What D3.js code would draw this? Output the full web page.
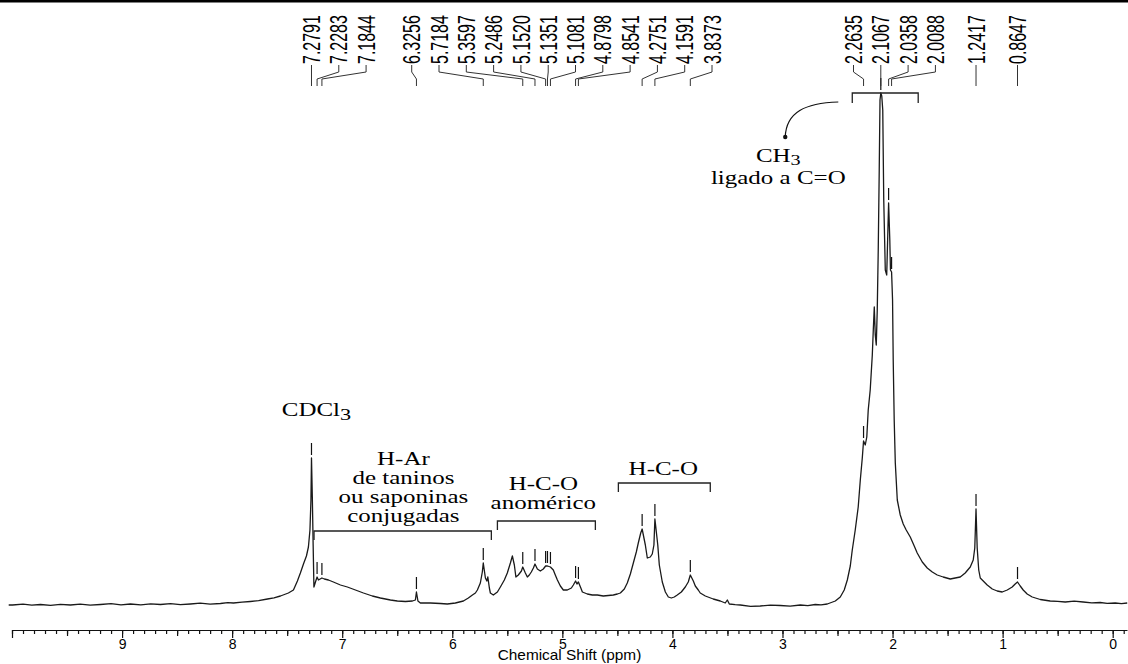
<!DOCTYPE html>
<html>
<head>
<meta charset="utf-8">
<script src="https://cdn.jsdelivr.net/npm/d3@7"></script>
<style>
body { margin: 0; background: #fff; }
svg { display: block; }
.serif { font-family: "Liberation Serif", "Times New Roman", serif; font-size: 18.5px; fill: #000; }
.sans { font-family: "Liberation Sans", Arial, sans-serif; fill: #000; }
</style>
</head>
<body>
<svg id="chart" width="1128" height="664"></svg>
<script>
// 1H NMR trace: [chemical shift (ppm), intensity (a.u.)]
const spectrum = [
  [10.03, -1], [9.995, -1], [9.90, -0.2], [9.82, -1.2], [9.741, -0.5], [9.65, -1.3], [9.56, -0.3],
  [9.469, -1], [9.38, -0.2], [9.29, -1.2], [9.196, -0.5], [9.10, 0.3], [9.01, -0.8], [8.924, 0],
  [8.83, -0.9], [8.74, 0.2], [8.651, -0.5], [8.56, 0.4], [8.47, -0.6], [8.379, 0], [8.29, 0.8],
  [8.20, -0.2], [8.106, 0.5], [8.04, 1.4], [7.988, 1], [7.91, 1.8], [7.834, 2.5], [7.76, 3.3],
  [7.679, 5], [7.62, 6.2], [7.561, 8], [7.489, 11],
  [7.443, 14], [7.407, 23], [7.380, 31], [7.352, 40], [7.325, 48], [7.307, 57], [7.293, 74],
  [7.284, 104], [7.2791, 146], [7.271, 104], [7.264, 59], [7.257, 17], [7.243, 22], [7.2283, 27],
  [7.216, 24], [7.1844, 26], [7.162, 25], [7.125, 24], [7.080, 22], [7.016, 19], [6.953, 17],
  [6.880, 14], [6.807, 11], [6.726, 8], [6.653, 6], [6.562, 4], [6.499, 3], [6.426, 2.5],
  [6.362, 3], [6.335, 4], [6.3256, 12], [6.312, 3], [6.290, 1], [6.199, 1], [6.108, 0.5],
  [6.045, 0], [5.972, 1], [5.899, 3], [5.854, 6], [5.817, 9], [5.790, 11], [5.772, 14],
  [5.745, 21], [5.727, 32], [5.7184, 41], [5.699, 26], [5.686, 23], [5.677, 27], [5.663, 16],
  [5.654, 11], [5.627, 9], [5.590, 12], [5.563, 17], [5.527, 24], [5.500, 31], [5.472, 41],
  [5.454, 48], [5.436, 39], [5.422, 27], [5.400, 29], [5.372, 33], [5.3597, 37], [5.336, 31],
  [5.318, 27], [5.300, 29], [5.282, 32], [5.263, 36], [5.2486, 40], [5.227, 35], [5.200, 33],
  [5.173, 35], [5.1520, 38], [5.1351, 38], [5.1081, 37], [5.082, 34], [5.064, 29], [5.045, 24],
  [5.018, 18], [4.991, 14], [4.955, 14], [4.918, 16], [4.900, 19], [4.8798, 23], [4.867, 20],
  [4.8541, 22], [4.832, 16], [4.818, 12], [4.773, 10], [4.728, 9], [4.682, 9], [4.628, 8],
  [4.582, 8.5], [4.537, 9], [4.500, 10], [4.473, 11], [4.437, 15], [4.410, 21], [4.382, 30],
  [4.355, 41], [4.328, 52], [4.310, 61], [4.288, 71], [4.2751, 75], [4.246, 59], [4.228, 46],
  [4.201, 47], [4.183, 50], [4.168, 59], [4.1591, 85], [4.133, 59], [4.119, 39], [4.092, 22],
  [4.064, 12], [4.037, 7], [4.010, 6], [3.983, 7], [3.956, 9], [3.919, 12], [3.883, 17],
  [3.856, 22], [3.8373, 29], [3.810, 23], [3.792, 18], [3.765, 14], [3.747, 11], [3.701, 8],
  [3.629, 5], [3.565, 3], [3.520, 1], [3.501, 4], [3.483, 0], [3.43, -0.6], [3.383, -1],
  [3.29, -2.3], [3.202, -2], [3.11, -1.2], [3.020, -1.5], [2.93, -2.2], [2.838, -1],
  [2.77, -1.6], [2.702, -0.5], [2.65, -0.9], [2.593, 0], [2.520, 3], [2.475, 7], [2.439, 14],
  [2.411, 24], [2.384, 38], [2.366, 54], [2.339, 74], [2.312, 97], [2.293, 124], [2.275, 146],
  [2.2635, 163], [2.248, 159], [2.234, 167], [2.221, 194], [2.203, 214], [2.184, 249],
  [2.175, 274], [2.166, 297], [2.157, 269], [2.148, 259], [2.139, 294], [2.130, 354],
  [2.121, 434], [2.114, 504], [2.1067, 511], [2.098, 508], [2.089, 494], [2.080, 404],
  [2.066, 334], [2.053, 329], [2.0358, 401], [2.025, 364], [2.019, 334], [2.0088, 332],
  [2.000, 304], [1.994, 244], [1.985, 184], [1.975, 141], [1.957, 104], [1.930, 89],
  [1.903, 80], [1.876, 74], [1.839, 67], [1.803, 58], [1.776, 51], [1.730, 42], [1.685, 36],
  [1.639, 32], [1.594, 29], [1.540, 27], [1.476, 25], [1.431, 26], [1.385, 27], [1.340, 31],
  [1.294, 37], [1.267, 44], [1.253, 56], [1.2417, 95], [1.231, 56], [1.217, 34], [1.203, 26],
  [1.176, 23], [1.140, 19], [1.094, 15], [1.049, 13], [1.004, 12], [0.958, 14], [0.913, 17],
  [0.886, 20], [0.8647, 22], [0.840, 18], [0.813, 14], [0.777, 10], [0.731, 7], [0.658, 4.5],
  [0.568, 3], [0.50, 2.6], [0.431, 2], [0.35, 2.8], [0.268, 2], [0.19, 1.2], [0.114, 1.5],
  [0.05, 0.6], [-0.023, 1], [-0.08, 0.4], [-0.132, 1]
];

// picked peaks (ppm), labelled along the top
const peakShifts = [7.2791, 7.2283, 7.1844, 6.3256, 5.7184, 5.3597, 5.2486, 5.1520, 5.1351,
  5.1081, 4.8798, 4.8541, 4.2751, 4.1591, 3.8373, 2.2635, 2.1067, 2.0358, 2.0088, 1.2417, 0.8647];

const axisLabels = [9, 8, 7, 6, 5, 4, 3, 2, 1, 0];

// region annotations: text centre (ppm), first baseline level, bracket range (ppm) and level
const regionText = [
  ["H-Ar", "de taninos", "ou saponinas", "conjugadas"],
  ["H-C-O", "anomérico"],
  ["H-C-O"]
];
const regionCenter = [6.444, 5.173, 4.083];
const regionLevel = [139, 114, 129];
const regionBracket = [[7.256, 5.645], [5.590, 4.700], [4.491, 3.656]];
const bracketLevel = [73, 83, 121];

const W = 1128, H = 664;
const svg = d3.select("#chart");

const x = d3.scaleLinear().domain([10, -0.13]).range([12, 1127]);
const y = d3.scaleLinear().domain([0, 520]).range([604, 84]);

// frame line on top
svg.append("line")
  .attr("x1", 0).attr("x2", W).attr("y1", 1.2).attr("y2", 1.2)
  .attr("stroke", "#000").attr("stroke-width", 2.4);

// spectrum
svg.append("path")
  .datum(spectrum)
  .attr("fill", "none")
  .attr("stroke", "#1a1a1a")
  .attr("stroke-width", 1.3)
  .attr("stroke-linejoin", "round")
  .attr("d", d3.line().x(d => x(d[0])).y(d => y(d[1])));

// peak heights looked up from the trace
const peaks = peakShifts.map(p => {
  const pt = d3.least(spectrum, d => Math.abs(d[0] - p));
  return { ppm: p, h: pt[1], px: x(p) };
});

// small markers above each picked peak
svg.append("g")
  .selectAll("line")
  .data(peaks)
  .join("line")
  .attr("x1", d => d.px).attr("x2", d => d.px)
  .attr("y1", d => y(d.h) - 3)
  .attr("y2", d => y(d.h) - 15)
  .attr("stroke", "#111")
  .attr("stroke-width", 1.2);

// spread the top labels: mean-centred clusters, re-anchored on the tallest peak when it fits
const gap = 27.3;
function layoutLabels(px, h) {
  let cl = px.map((v, i) => ({ i0: i, n: 1, sum: v }));
  const start = c => c.sum / c.n - (c.n - 1) * gap / 2;
  let again = true;
  while (again) {
    again = false;
    for (let j = 1; j < cl.length; j++) {
      const a = cl[j - 1], b = cl[j];
      if (start(b) < start(a) + a.n * gap) {
        cl.splice(j - 1, 2, { i0: a.i0, n: a.n + b.n, sum: a.sum + b.sum });
        again = true;
        break;
      }
    }
  }
  cl.forEach(c => c.s = start(c));
  cl.forEach((c, j) => {
    let best = c.i0;
    for (let k = c.i0; k < c.i0 + c.n; k++) if (h[k] > h[best]) best = k;
    const s = px[best] - (best - c.i0) * gap;
    const prev = cl[j - 1], next = cl[j + 1];
    const okL = !prev || s >= prev.s + prev.n * gap;
    const okR = !next || s + c.n * gap <= next.s;
    if (okL && okR) c.s = s;
  });
  const out = [];
  cl.forEach(c => { for (let k = 0; k < c.n; k++) out.push(c.s + k * gap); });
  return out;
}
const lx = layoutLabels(peaks.map(d => d.px), peaks.map(d => d.h));
peaks.forEach((d, i) => d.lx = lx[i]);

const fmt = d3.format(".4f");
const labelG = svg.append("g");
labelG.selectAll("path")
  .data(peaks)
  .join("path")
  .attr("fill", "none")
  .attr("stroke", "#333")
  .attr("stroke-width", 1)
  .attr("d", d => `M${d.lx},65V72L${d.px},79V86`);

labelG.selectAll("text")
  .data(peaks)
  .join("text")
  .attr("class", "sans")
  .attr("font-size", 16)
  .attr("transform", d => `translate(${d.lx},64) scale(1.5,1) rotate(-90)`)
  .attr("dy", "0.36em")
  .text(d => fmt(d.ppm));

// axis
const axisY = 630;
const minor = d3.range(-1, 101).map(i => i / 10);
const half = d3.range(1, 20, 2).map(i => i / 2);
const ax = svg.append("g").attr("transform", `translate(0,${axisY})`);
ax.append("g").call(d3.axisBottom(x).tickValues(minor).tickSize(4).tickSizeOuter(0).tickFormat(""));
ax.append("g").call(d3.axisBottom(x).tickValues(half).tickSize(6).tickSizeOuter(0).tickFormat(""))
  .select(".domain").remove();
ax.append("g").call(d3.axisBottom(x).tickValues(axisLabels.concat([10])).tickSize(8).tickPadding(1)
    .tickSizeOuter(0).tickFormat(d => d === 10 ? "" : d))
  .select(".domain").remove();
ax.selectAll("line, path").attr("stroke", "#111").attr("stroke-width", 1.2);
ax.selectAll("text")
  .attr("class", "sans")
  .attr("font-size", 14)
  .attr("font-family", "Liberation Sans, Arial, sans-serif");

const midX = (x.range()[0] + x.range()[1]) / 2;
svg.append("text")
  .attr("class", "sans")
  .attr("x", midX)
  .attr("y", 660.5)
  .attr("text-anchor", "middle")
  .attr("font-size", 14)
  .attr("transform", `translate(${midX},0) scale(1.1,1) translate(${-midX},0)`)
  .text("Chemical Shift (ppm)");

// serif annotations
const lineH = 19;
function serifText(g, cx, cy) {
  return g.append("text")
    .attr("class", "serif")
    .attr("text-anchor", "middle")
    .attr("transform", `translate(${cx},${cy}) scale(1.35,1)`);
}
const ann = svg.append("g");

const cd = serifText(ann, x(7.234), y(188));
cd.append("tspan").text("CDCl");
cd.append("tspan").attr("dy", 4).attr("font-size", 16.5).text("3");

function bracket(g, a, b, level, down) {
  g.append("path")
    .attr("fill", "none")
    .attr("stroke", "#222")
    .attr("stroke-width", 1.3)
    .attr("d", `M${x(a)},${y(level) + down}V${y(level)}H${x(b)}V${y(level) + down}`);
}

regionText.forEach((lines, i) => {
  lines.forEach((t, k) => {
    serifText(ann, x(regionCenter[i]), y(regionLevel[i]) + k * lineH).text(t);
  });
  bracket(ann, regionBracket[i][0], regionBracket[i][1], bracketLevel[i], 9);
});

// CH3 bracket, arrow and label
bracket(ann, 2.366, 1.767, 511, 10);
const a0 = [x(2.493), y(502)], a1 = [x(2.975), y(467)];
ann.append("path")
  .attr("fill", "none")
  .attr("stroke", "#111")
  .attr("stroke-width", 1.2)
  .attr("d", `M${a0[0]},${a0[1]}C${a0[0] - 33},${a0[1] + 1} ${a1[0] + 1},${a1[1] - 25} ${a1[0]},${a1[1]}`);
ann.append("circle").attr("cx", a1[0]).attr("cy", a1[1]).attr("r", 2.2).attr("fill", "#111");

const ch = serifText(ann, x(3.038), y(442));
ch.append("tspan").text("CH");
ch.append("tspan").attr("dy", 2.5).attr("font-size", 15).text("3");
serifText(ann, x(3.038), y(442) + 22).text("ligado a C=O");
</script>
</body>
</html>
